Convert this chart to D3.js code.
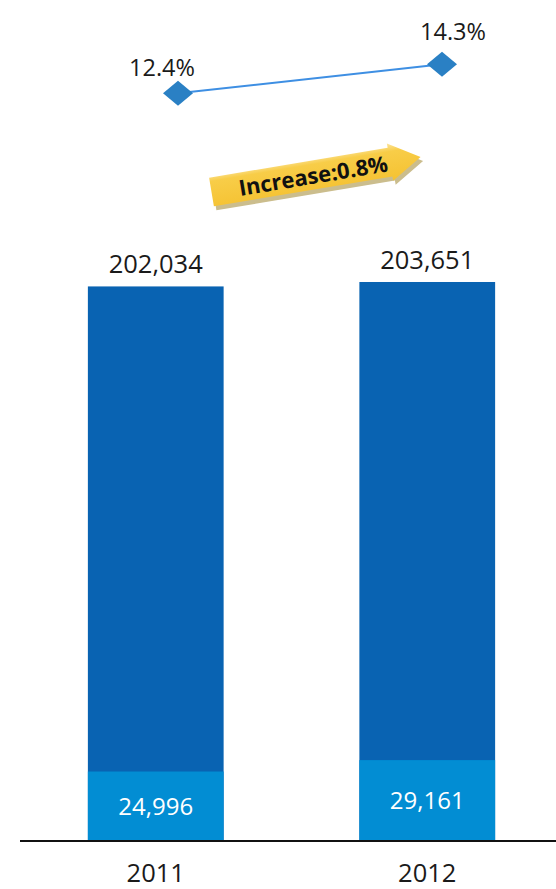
<!DOCTYPE html>
<html>
<head>
<meta charset="utf-8">
<script src="https://d3js.org/d3.v7.min.js"></script>
<style>
  body { margin: 0; background: #ffffff; }
  text { font-family: "Open Sans", sans-serif; }
</style>
</head>
<body>
<div id="main_view"></div>
<script>
// chart data
var years = ["2011", "2012"];
var totals = [202034, 203651];
var lower = [24996, 29161];
var rates = [12.4, 14.3];
var increaseLabel = "Increase:0.8%";

var width = 556,
    height = 889,
    baseY = 840;

var svg = d3.select("#main_view").append("svg")
    .attr("width", width)
    .attr("height", height);

// scales
var xScale = d3.scaleBand().domain(years).range([20, 563])
    .paddingInner(0.5).paddingOuter(0.25);
var yScale = d3.scaleLinear().domain([0, 205000]).range([baseY, baseY - 2.74 * 205]);
var xRate = d3.scalePoint().domain(years).range([178, 442]);
var yRate = d3.scaleLinear().domain([10, 15]).range([129.9, 53.6]);

var fmt = d3.format(",");

// dark (total) bars
svg.selectAll(".bar-total")
    .data(years)
  .enter().append("rect")
    .attr("class", "bar-total")
    .attr("x", function(d) { return xScale(d); })
    .attr("width", xScale.bandwidth())
    .attr("y", function(d, i) { return yScale(totals[i]); })
    .attr("height", function(d, i) { return baseY - yScale(totals[i]); })
    .attr("fill", "#0963b2");

// light (lower segment) bars
svg.selectAll(".bar-lower")
    .data(years)
  .enter().append("rect")
    .attr("class", "bar-lower")
    .attr("x", function(d) { return xScale(d); })
    .attr("width", xScale.bandwidth())
    .attr("y", function(d, i) { return yScale(lower[i]); })
    .attr("height", function(d, i) { return baseY - yScale(lower[i]); })
    .attr("fill", "#028dd3");

// total labels
svg.selectAll(".lbl-total")
    .data(years)
  .enter().append("text")
    .attr("x", function(d) { return xScale(d) + xScale.bandwidth() / 2; })
    .attr("y", function(d, i) { return yScale(totals[i]) - 13; })
    .attr("text-anchor", "middle")
    .attr("font-size", "25.5px")
    .attr("fill", "#1a1a1a")
    .text(function(d, i) { return fmt(totals[i]); });

// lower labels
svg.selectAll(".lbl-lower")
    .data(years)
  .enter().append("text")
    .attr("x", function(d) { return xScale(d) + xScale.bandwidth() / 2; })
    .attr("y", function(d, i) { return (yScale(lower[i]) + baseY) / 2 + 9; })
    .attr("text-anchor", "middle")
    .attr("font-size", "24px")
    .attr("fill", "#ffffff")
    .text(function(d, i) { return fmt(lower[i]); });

// baseline
svg.append("line")
    .attr("x1", 20).attr("x2", width)
    .attr("y1", baseY + 1).attr("y2", baseY + 1)
    .attr("stroke", "#111")
    .attr("stroke-width", 2);

// year labels
svg.selectAll(".lbl-year")
    .data(years)
  .enter().append("text")
    .attr("x", function(d) { return xScale(d) + xScale.bandwidth() / 2; })
    .attr("y", 882)
    .attr("text-anchor", "middle")
    .attr("font-size", "25.5px")
    .attr("fill", "#1a1a1a")
    .text(function(d) { return d; });

// rate line
var line = d3.line()
    .x(function(d, i) { return xRate(years[i]); })
    .y(function(d) { return yRate(d); });

svg.append("path")
    .datum(rates)
    .attr("d", line)
    .attr("fill", "none")
    .attr("stroke", "#3e8fe3")
    .attr("stroke-width", 2);

svg.selectAll(".diamond")
    .data(rates)
  .enter().append("path")
    .attr("d", "M-15,0L0,-12.5L15,0L0,12.5Z")
    .attr("transform", function(d, i) { return "translate(" + xRate(years[i]) + "," + yRate(d) + ")"; })
    .attr("fill", "#2a80c4");

svg.selectAll(".lbl-rate")
    .data(rates)
  .enter().append("text")
    .attr("x", function(d, i) { return xRate(years[i]) + (i === 0 ? -16 : 11); })
    .attr("y", function(d, i) { return yRate(d) + (i === 0 ? -17 : -24); })
    .attr("text-anchor", "middle")
    .attr("font-size", "23.5px")
    .attr("fill", "#1a1a1a")
    .text(function(d) { return d.toFixed(1) + "%"; });

// increase arrow
var defs = svg.append("defs");
var grad = defs.append("linearGradient")
    .attr("id", "arrowGrad")
    .attr("x1", 0).attr("y1", 0).attr("x2", 0).attr("y2", 1);
grad.append("stop").attr("offset", "0%").attr("stop-color", "#fce5a0");
grad.append("stop").attr("offset", "22%").attr("stop-color", "#f8cd48");
grad.append("stop").attr("offset", "100%").attr("stop-color", "#f5c232");

var arrowPath = "M0,-14.5L181,-14.5L181,-19L212,0L181,19L181,14.5L0,14.5Z";

svg.append("path")
    .attr("d", arrowPath)
    .attr("transform", "translate(214,196) rotate(-9.5)")
    .attr("fill", "#cbbd8d");

var arrow = svg.append("g")
    .attr("transform", "translate(211.5,192) rotate(-9.5)");

arrow.append("path")
    .attr("d", arrowPath)
    .attr("fill", "url(#arrowGrad)");

arrow.append("text")
    .attr("x", 103)
    .attr("y", 1)
    .attr("dy", "0.35em")
    .attr("text-anchor", "middle")
    .attr("font-size", "22px")
    .attr("font-weight", "bold")
    .attr("fill", "#111")
    .text(increaseLabel);
</script>
</body>
</html>
